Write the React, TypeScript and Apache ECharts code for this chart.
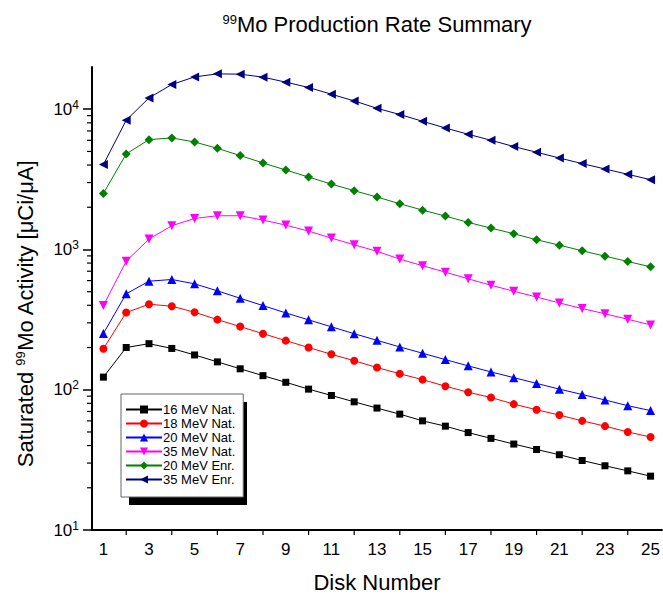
import React, { useEffect, useRef } from "react";
import * as echarts from "echarts";

const disks = ["1","2","3","4","5","6","7","8","9","10","11","12","13","14","15","16","17","18","19","20","21","22","23","24","25"];

const mev16Nat = [123, 200, 213, 197, 177, 158, 141, 126, 113, 101, 91, 82, 74, 67, 60, 55, 49.5, 45, 41, 37.5, 34.4, 31.3, 28.7, 26.4, 24.2];
const mev18Nat = [196, 355, 407, 394, 357, 316, 282, 251, 224, 200, 179, 161, 144, 130, 118, 106, 96, 88, 79, 72, 66, 60, 55, 50, 46];
const mev20Nat = [252, 483, 594, 611, 569, 507, 449, 398, 353, 315, 281, 251, 225, 202, 182, 164, 148, 134, 122, 111, 101, 92.5, 84.5, 77, 71];
const mev35Nat = [398, 825, 1186, 1476, 1664, 1740, 1740, 1620, 1492, 1352, 1205, 1080, 970, 854, 766, 689, 618, 556, 504, 458, 416, 379, 348, 318, 290];
const mev20Enr = [2512, 4800, 6070, 6240, 5840, 5260, 4670, 4140, 3685, 3285, 2925, 2625, 2365, 2120, 1908, 1730, 1560, 1420, 1295, 1173, 1074, 979, 896, 821, 752];
const mev35Enr = [4030, 8340, 12040, 15000, 17000, 17870, 17780, 16930, 15600, 14290, 12790, 11460, 10150, 9170, 8200, 7350, 6625, 6010, 5420, 4935, 4490, 4095, 3750, 3435, 3145];

const seriesNames = ["16 MeV Nat.", "18 MeV Nat.", "20 MeV Nat.", "35 MeV Nat.", "20 MeV Enr.", "35 MeV Enr."];

const yMinorTicks = [20, 30, 40, 50, 60, 70, 80, 90, 200, 300, 400, 500, 600, 700, 800, 900, 2000, 3000, 4000, 5000, 6000, 7000, 8000, 9000];
const xMinorTicks = ["2", "4", "6", "8", "10", "12", "14", "16", "18", "20", "22", "24"];

const FONT = "Liberation Sans, Arial, sans-serif";

export default function App() {
  const ref = useRef<HTMLDivElement>(null);
  useEffect(() => {
    if (!ref.current) return;
    const chart = echarts.init(ref.current, null, { renderer: "svg" });

    const mk = (name: string, data: number[], color: string, symbol: string, size: number, rotate = 0) => ({
      name,
      type: "line",
      data,
      symbol,
      symbolSize: size,
      symbolRotate: rotate,
      lineStyle: { color, width: 1 },
      itemStyle: { color },
      z: 3,
    });

    chart.setOption({
      animation: false,
      backgroundColor: "#fff",
      textStyle: { fontFamily: FONT },
      title: {
        text: "{s|99}{b|Mo Production Rate Summary}",
        left: 372,
        top: 8,
        textAlign: "center",
        textStyle: {
          fontWeight: "normal",
          rich: {
            s: { fontSize: 13, fontFamily: FONT, fontWeight: "normal", color: "#000", verticalAlign: "top", padding: [0, 0, 10, 0] },
            b: { fontSize: 22, fontFamily: FONT, fontWeight: "normal", color: "#000" },
          },
        },
      },
      legend: {
        data: seriesNames,
        orient: "vertical",
        left: 121,
        top: 394,
        padding: [9, 8, 11, 4],
        itemGap: 1,
        itemWidth: 36,
        itemHeight: 10,
        backgroundColor: "#fff",
        borderColor: "#666",
        borderWidth: 1,
        z: 10,
        textStyle: { fontSize: 13, fontFamily: FONT, color: "#000", padding: [0, 0, 0, -4] },
      },
      graphic: [
        { type: "rect", left: 129, top: 402, shape: { width: 118, height: 103 }, style: { fill: "#000" }, z: 5 },
      ],
      grid: { left: 92, right: 0, top: 67, bottom: 67 },
      xAxis: {
        type: "category",
        data: disks,
        boundaryGap: true,
        name: "Disk Number",
        nameLocation: "middle",
        nameGap: 41,
        nameTextStyle: { fontSize: 22, fontFamily: FONT, color: "#000" },
        axisLine: { lineStyle: { color: "#000", width: 2 } },
        axisTick: { alignWithLabel: true, interval: 1, length: 9, lineStyle: { color: "#000", width: 1.5 } },
        axisLabel: { interval: 1, margin: 11, fontSize: 17, fontFamily: FONT, color: "#000" },
        splitLine: { show: false },
      },
      yAxis: {
        type: "log",
        min: 10,
        max: 20000,
        logBase: 10,
        name: "Saturated {s|99}{b|Mo Activity [μCi/μA]}",
        nameLocation: "middle",
        nameGap: 55,
        nameRotate: 90,
        nameTextStyle: {
          fontSize: 22,
          fontFamily: FONT,
          color: "#000",
          padding: [0, 30, 0, 0],
          rich: {
            s: { fontSize: 13, fontFamily: FONT, color: "#000", verticalAlign: "top", padding: [0, 0, 10, 0] },
            b: { fontSize: 22, fontFamily: FONT, color: "#000" },
          },
        },
        axisLine: { show: true, lineStyle: { color: "#000", width: 2 } },
        axisTick: { show: true, length: 9, lineStyle: { color: "#000", width: 1.5 } },
        axisLabel: {
          margin: 13,
          showMaxLabel: false,
          formatter: (v: number) => "{b|10}{s|" + Math.round(Math.log10(v)) + "}",
          rich: {
            b: { fontSize: 17, fontFamily: FONT, color: "#000" },
            s: { fontSize: 12, fontFamily: FONT, color: "#000", verticalAlign: "top", padding: [0, 0, 9, 0] },
          },
        },
        splitLine: { show: false },
        minorTick: { show: false },
      },
      series: [
        mk(seriesNames[0], mev16Nat, "#000000", "rect", 7),
        mk(seriesNames[1], mev18Nat, "#ff0000", "circle", 8),
        mk(seriesNames[2], mev20Nat, "#0000ff", "triangle", 9),
        mk(seriesNames[3], mev35Nat, "#ff00ff", "triangle", 9, 180),
        mk(seriesNames[4], mev20Enr, "#008000", "diamond", 9),
        mk(seriesNames[5], mev35Enr, "#000080", "triangle", 9, 90),
        {
          type: "custom",
          silent: true,
          clip: false,
          data: yMinorTicks.map((v) => [0, v]),
          encode: { x: 0, y: 1 },
          renderItem: (params: any, api: any) => {
            const y = api.coord([0, api.value(1)])[1];
            const x0 = params.coordSys.x;
            return { type: "line", shape: { x1: x0 - 5, y1: y, x2: x0, y2: y }, style: { stroke: "#000", lineWidth: 1.2 } };
          },
        },
        {
          type: "custom",
          silent: true,
          clip: false,
          data: xMinorTicks.map((c) => [c, 10]),
          encode: { x: 0, y: 1 },
          renderItem: (params: any, api: any) => {
            const x = api.coord([api.value(0), 10])[0];
            const y0 = params.coordSys.y + params.coordSys.height;
            return { type: "line", shape: { x1: x, y1: y0, x2: x, y2: y0 + 5 }, style: { stroke: "#000", lineWidth: 1.2 } };
          },
        },
      ],
    });
    return () => chart.dispose();
  }, []);
  return <div ref={ref} style={{ position: "fixed", left: 0, top: 0, width: 663, height: 598 }} />;
}
